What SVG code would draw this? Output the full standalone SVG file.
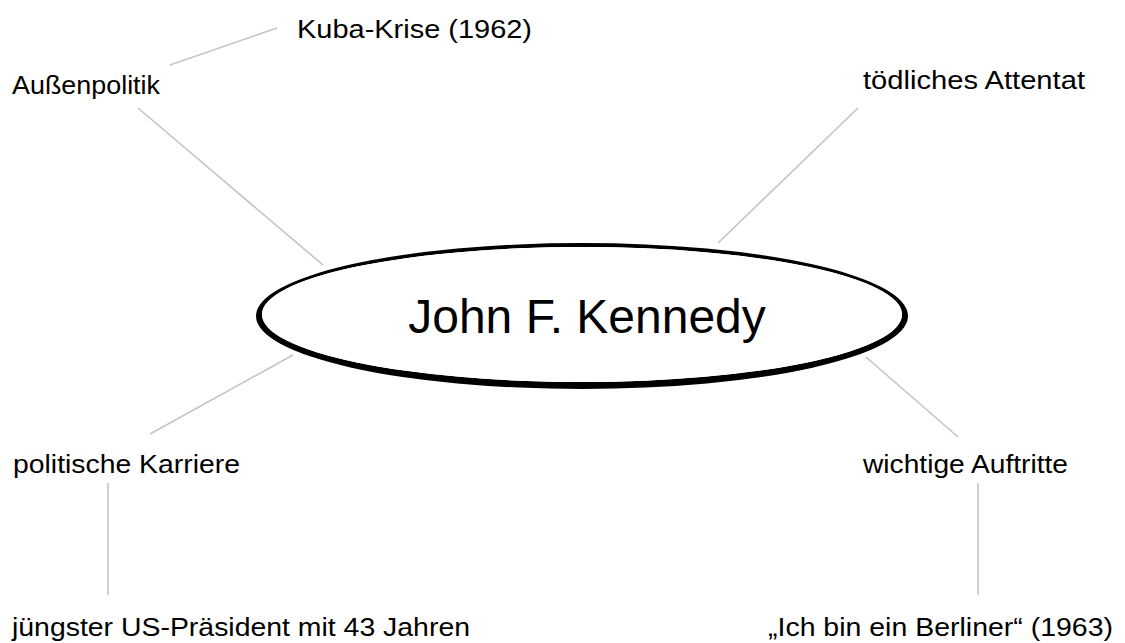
<svg xmlns="http://www.w3.org/2000/svg" width="1125" height="643" viewBox="0 0 1125 643">
  <style>
    .label { font-family: "Liberation Sans", Arial, sans-serif; font-size: 26.5px; fill: #000; }
    .title { font-family: "Liberation Sans", Arial, sans-serif; font-size: 48px; fill: #000; }
    .link { stroke: #c4c4c4; stroke-width: 1.6; fill: none; }
  </style>
  <rect width="1125" height="643" fill="#fff"/>

  <!-- connectors -->
  <g id="connectors">
    <line class="link" x1="170" y1="65" x2="277" y2="28"/>
    <line class="link" x1="138" y1="108" x2="323" y2="265"/>
    <line class="link" x1="858" y1="108" x2="718" y2="243"/>
    <line class="link" x1="150" y1="434" x2="293" y2="355"/>
    <line class="link" x1="958" y1="437" x2="866" y2="357"/>
    <line class="link" x1="108" y1="483" x2="108" y2="595"/>
    <line class="link" x1="978" y1="483" x2="978" y2="595"/>
  </g>

  <!-- central node: hand-drawn style ring, heavier at the bottom -->
  <g id="node-center">
    <path fill="#000" fill-rule="evenodd"
      d="M256,316 A326,73 0 1,0 908,316 A326,73 0 1,0 256,316 Z
         M262,314.5 A320,67.5 0 1,0 902,314.5 A320,67.5 0 1,0 262,314.5 Z"/>
    <path fill="#fff" d="M262,314.5 A320,67.5 0 1,0 902,314.5 A320,67.5 0 1,0 262,314.5 Z"/>
    <text class="title" x="587" y="333" text-anchor="middle">John F. Kennedy</text>
  </g>

  <g id="node-aussenpolitik">
    <text class="label" x="12" y="94" textLength="148" lengthAdjust="spacingAndGlyphs">Außenpolitik</text>
  </g>
  <g id="node-kuba">
    <text class="label" x="297" y="38" textLength="235" lengthAdjust="spacingAndGlyphs">Kuba-Krise (1962)</text>
  </g>
  <g id="node-attentat">
    <text class="label" x="863" y="89" textLength="222" lengthAdjust="spacingAndGlyphs">tödliches Attentat</text>
  </g>
  <g id="node-karriere">
    <text class="label" x="13" y="473" textLength="227" lengthAdjust="spacingAndGlyphs">politische Karriere</text>
  </g>
  <g id="node-auftritte">
    <text class="label" x="863" y="473" textLength="205" lengthAdjust="spacingAndGlyphs">wichtige Auftritte</text>
  </g>
  <g id="node-praesident">
    <text class="label" x="12" y="636" textLength="458" lengthAdjust="spacingAndGlyphs">jüngster US-Präsident mit 43 Jahren</text>
  </g>
  <g id="node-berliner">
    <text class="label" x="768" y="636" textLength="345" lengthAdjust="spacingAndGlyphs">„Ich bin ein Berliner“ (1963)</text>
  </g>
</svg>
